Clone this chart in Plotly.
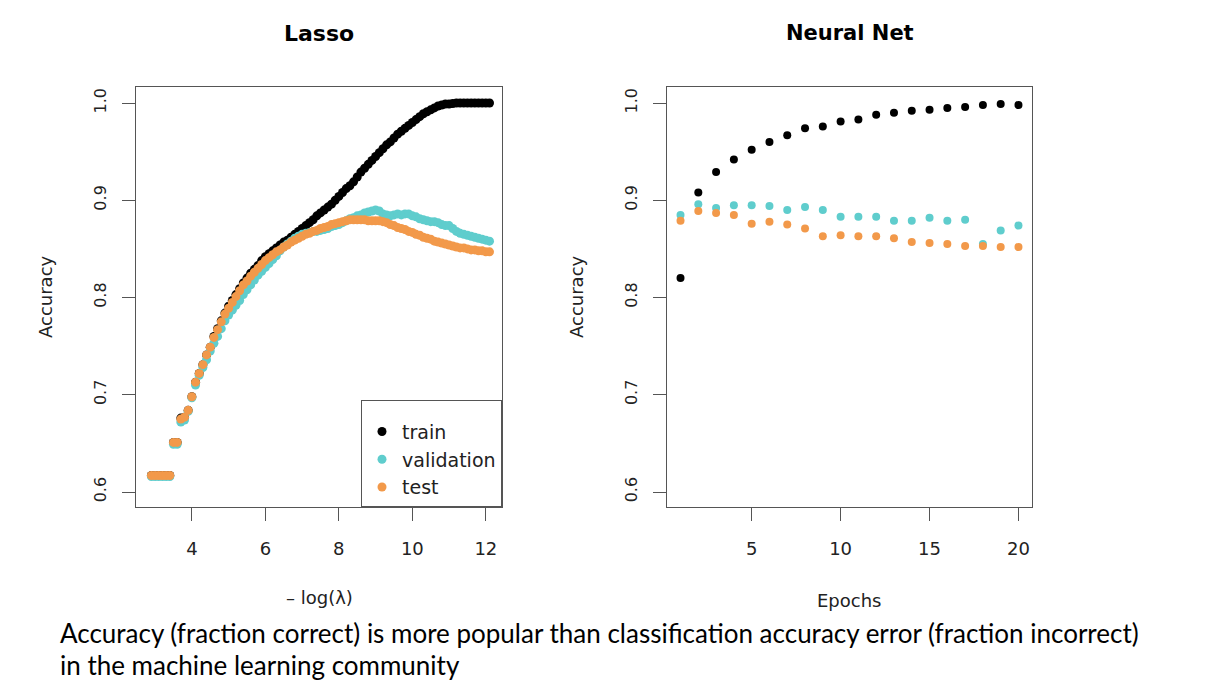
import plotly.graph_objects as go

# ---------------- data ----------------
lasso_x = [2.9, 3.0, 3.1, 3.2, 3.3, 3.4,
           3.5, 3.6, 3.7, 3.8, 3.9,
           4.0, 4.1, 4.2, 4.3, 4.4, 4.5, 4.6, 4.7, 4.8, 4.9,
           5.0, 5.1, 5.2, 5.3, 5.4, 5.5, 5.6, 5.7, 5.8, 5.9,
           6.0, 6.1, 6.2, 6.3, 6.4, 6.5, 6.6, 6.7, 6.8, 6.9,
           7.0, 7.1, 7.2, 7.3, 7.4, 7.5, 7.6, 7.7, 7.8, 7.9,
           8.0, 8.1, 8.2, 8.3, 8.4, 8.5, 8.6, 8.7, 8.8, 8.9,
           9.0, 9.1, 9.2, 9.3, 9.4, 9.5, 9.6, 9.7, 9.8, 9.9,
           10.0, 10.1, 10.2, 10.3, 10.4, 10.5, 10.6, 10.7, 10.8, 10.9,
           11.0, 11.1, 11.2, 11.3, 11.4, 11.5, 11.6, 11.7, 11.8, 11.9,
           12.0, 12.1]

lasso_train = [0.617, 0.617, 0.617, 0.617, 0.617, 0.617,
               0.651, 0.651, 0.676, 0.677, 0.684,
               0.698, 0.713, 0.722, 0.731, 0.741, 0.749, 0.760, 0.768, 0.776, 0.784,
               0.791, 0.797, 0.803, 0.809, 0.815, 0.820, 0.825, 0.829, 0.833, 0.838,
               0.842, 0.845, 0.848, 0.851, 0.854, 0.857, 0.859, 0.862, 0.865, 0.868,
               0.871, 0.874, 0.877, 0.880, 0.884, 0.887, 0.890, 0.893, 0.896, 0.900,
               0.904, 0.908, 0.912, 0.915, 0.919, 0.924, 0.929, 0.933, 0.937, 0.941,
               0.945, 0.949, 0.953, 0.957, 0.960, 0.964, 0.968, 0.971, 0.974, 0.977,
               0.980, 0.983, 0.986, 0.989, 0.991, 0.993, 0.995, 0.997, 0.998, 0.999,
               0.999, 0.9995, 1.0, 1.0, 1.0, 1.0, 1.0, 1.0, 1.0, 1.0,
               1.0, 1.0]

lasso_valid = [0.616, 0.616, 0.616, 0.616, 0.616, 0.616,
               0.649, 0.649, 0.672, 0.674, 0.683,
               0.697, 0.710, 0.720, 0.728, 0.736, 0.745, 0.753, 0.760, 0.768, 0.776,
               0.782, 0.787, 0.792, 0.797, 0.803, 0.808, 0.813, 0.818, 0.823, 0.827,
               0.831, 0.835, 0.839, 0.843, 0.848, 0.852, 0.855, 0.858, 0.861, 0.863,
               0.865, 0.866, 0.867, 0.868, 0.868, 0.869, 0.870, 0.871, 0.873, 0.874,
               0.875, 0.877, 0.879, 0.881, 0.882, 0.884, 0.885, 0.887, 0.888, 0.889,
               0.890, 0.889, 0.886, 0.885, 0.884, 0.885, 0.886, 0.885, 0.886, 0.886,
               0.884, 0.883, 0.881, 0.880, 0.879, 0.878, 0.878, 0.877, 0.875, 0.874,
               0.874, 0.871, 0.868, 0.866, 0.865, 0.864, 0.863, 0.862, 0.861, 0.860,
               0.859, 0.858]

lasso_test = [0.617, 0.617, 0.617, 0.617, 0.617, 0.617,
              0.651, 0.651, 0.675, 0.677, 0.684,
              0.698, 0.713, 0.722, 0.731, 0.741, 0.749, 0.759, 0.767, 0.775, 0.783,
              0.789, 0.795, 0.801, 0.807, 0.813, 0.817, 0.822, 0.826, 0.830, 0.834,
              0.838, 0.841, 0.844, 0.847, 0.849, 0.852, 0.854, 0.857, 0.859, 0.861,
              0.863, 0.865, 0.866, 0.868, 0.869, 0.871, 0.872, 0.873, 0.875, 0.876,
              0.877, 0.878, 0.879, 0.880, 0.880, 0.880, 0.880, 0.880, 0.879, 0.879,
              0.879, 0.879, 0.878, 0.877, 0.875, 0.874, 0.872, 0.871, 0.870, 0.868,
              0.867, 0.865, 0.864, 0.862, 0.861, 0.860, 0.858, 0.857, 0.856, 0.855,
              0.854, 0.853, 0.852, 0.851, 0.851, 0.850, 0.849, 0.849, 0.848, 0.848,
              0.847, 0.847]

epochs = [1, 2, 3, 4, 5, 6, 7, 8, 9, 10, 11, 12, 13, 14, 15, 16, 17, 18, 19, 20]
nn_train = [0.820, 0.908, 0.929, 0.942, 0.952, 0.960, 0.967, 0.974, 0.976, 0.981,
            0.983, 0.988, 0.990, 0.992, 0.993, 0.995, 0.996, 0.998, 0.999, 0.998]
nn_valid = [0.885, 0.896, 0.892, 0.895, 0.895, 0.894, 0.890, 0.893, 0.890, 0.883,
            0.883, 0.883, 0.879, 0.879, 0.882, 0.879, 0.880, 0.855, 0.869, 0.874]
nn_test = [0.879, 0.889, 0.887, 0.885, 0.876, 0.878, 0.875, 0.871, 0.863, 0.864,
           0.863, 0.863, 0.861, 0.857, 0.856, 0.855, 0.853, 0.853, 0.852, 0.852]

series_names = ["train", "validation", "test"]
series_colors = ["#000000", "#5FCDCD", "#F2994A"]
y_ticks = [0.6, 0.7, 0.8, 0.9, 1.0]
lasso_xticks = [4, 6, 8, 10, 12]
nn_xticks = [5, 10, 15, 20]

# ---------------- figure ----------------
W, H = 1214, 686
OFF = 8  # page body margin


def fx(px):
    return (px - OFF) / W


def fy(py):
    return 1 - (py - OFF) / H


fig = go.Figure()

for name, col, ys in zip(series_names, series_colors, [lasso_train, lasso_valid, lasso_test]):
    fig.add_trace(go.Scatter(x=lasso_x, y=ys, mode="markers", name=name,
                             marker=dict(color=col, size=9, line=dict(width=0)),
                             xaxis="x", yaxis="y", showlegend=True))
for name, col, ys in zip(series_names, series_colors, [nn_train, nn_valid, nn_test]):
    fig.add_trace(go.Scatter(x=epochs, y=ys, mode="markers", name=name,
                             marker=dict(color=col, size=8, line=dict(width=0)),
                             xaxis="x2", yaxis="y2", showlegend=False))

L1, R1 = fx(136), fx(502)
L2, R2 = fx(667), fx(1032)
TOP, BOT = fy(87), fy(507)

tickfont = dict(family="DejaVu Sans", size=18, color="#222222")
ytickfont = dict(family="DejaVu Sans", size=16, color="#222222")
axcommon = dict(showgrid=False, zeroline=False, showline=True, mirror=True,
                linecolor="#555555", linewidth=1, ticks="outside", ticklen=13,
                tickcolor="#555555", tickwidth=1)

fig.update_layout(
    width=W, height=H,
    margin=dict(l=0, r=0, t=0, b=0),
    paper_bgcolor="white", plot_bgcolor="white",
    xaxis=dict(domain=[L1, R1], range=[2.48, 12.44], tickvals=lasso_xticks,
               tickfont=tickfont, ticklabelstandoff=12, anchor="y", **axcommon),
    yaxis=dict(domain=[BOT, TOP], range=[0.5846, 1.0165], tickvals=y_ticks,
               tickformat=".1f", tickangle=-90, tickfont=ytickfont,
               ticklabelstandoff=10, anchor="x", **axcommon),
    xaxis2=dict(domain=[L2, R2], range=[0.24, 20.76], tickvals=nn_xticks,
                tickfont=tickfont, ticklabelstandoff=12, anchor="y2", **axcommon),
    yaxis2=dict(domain=[BOT, TOP], range=[0.5846, 1.0165], tickvals=y_ticks,
                tickformat=".1f", tickangle=-90, tickfont=ytickfont,
                ticklabelstandoff=10, anchor="x2", **axcommon),
    legend=dict(x=R1, y=BOT, xanchor="right", yanchor="bottom",
                bordercolor="#555555", borderwidth=1, bgcolor="white",
                font=dict(family="DejaVu Sans", size=19, color="#222222"),
                itemwidth=30,
                title=dict(text=" ", font=dict(size=9))),
    showlegend=True,
)

ann = []
ann.append(dict(text="<b>Lasso</b>", x=fx((136 + 502) / 2), y=fy(33),
                font=dict(family="DejaVu Sans", size=22, color="black")))
ann.append(dict(text="<b>Neural Net</b>", x=fx((667 + 1032) / 2), y=fy(33),
                font=dict(family="DejaVu Sans", size=21, color="black")))
ann.append(dict(text="\u2013 log(\u03bb)", x=fx((136 + 502) / 2), y=fy(597),
                font=dict(family="DejaVu Sans", size=18, color="#222222")))
ann.append(dict(text="Epochs", x=fx((667 + 1032) / 2), y=fy(600),
                font=dict(family="DejaVu Sans", size=18, color="#222222")))
ann.append(dict(text="Accuracy", x=fx(45), y=(BOT + TOP) / 2, textangle=-90,
                font=dict(family="DejaVu Sans", size=18, color="#222222")))
ann.append(dict(text="Accuracy", x=fx(576), y=(BOT + TOP) / 2, textangle=-90,
                font=dict(family="DejaVu Sans", size=18, color="#222222")))
ann.append(dict(text="Accuracy (fraction correct) is more popular than classification accuracy error (fraction incorrect)",
                x=fx(58), y=fy(633), xanchor="left",
                font=dict(family="Lato", size=26, color="black")))
ann.append(dict(text="in the machine learning community",
                x=fx(58), y=fy(665), xanchor="left",
                font=dict(family="Lato", size=26, color="black")))
for a in ann:
    a.setdefault("xanchor", "center")
    a.update(xref="paper", yref="paper", yanchor="middle", showarrow=False)
fig.update_layout(annotations=ann)

fig.write_html("out.html")
